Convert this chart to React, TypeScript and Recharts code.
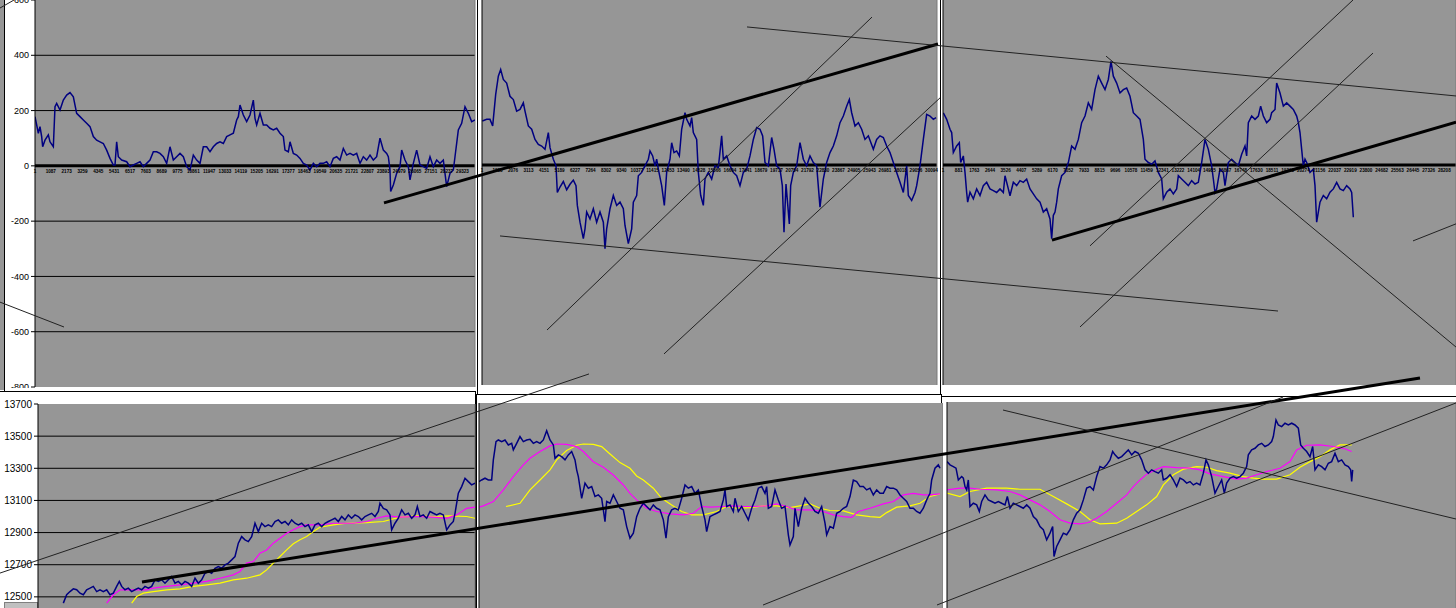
import { ComposedChart, Line, XAxis, YAxis, CartesianGrid, ReferenceLine, LabelList } from "recharts"

type Pt = [number, number]
type Seg = [number, number, number, number]

// ---- top row: oscillator, t = sample position, v = points ----
const oscLeft: Pt[] = [
  [105, 178], [115, 118], [120, 142], [125, 106], [128, 69], [135, 93], [145, 112], [150, 87], [160, 69],
  [165, 214], [170, 226], [180, 202], [190, 238], [200, 256], [210, 265], [220, 250], [230, 190], [240, 178],
  [250, 166], [260, 154], [270, 142], [280, 106], [290, 93], [300, 87], [310, 81], [320, 57], [330, 27],
  [340, 3], [345, 3], [350, 87], [355, 33], [365, 21], [380, 15], [390, -3], [400, 3], [410, 9], [420, 15],
  [430, -3], [440, 9], [450, 21], [460, 51], [470, 51], [480, 45], [490, 33], [500, 9], [510, 69], [520, 21],
  [530, 33], [540, 45], [550, 33], [560, -3], [570, -15], [580, 39], [590, 21], [600, 9], [610, 69], [620, 69],
  [630, 51], [640, 69], [650, 81], [660, 87], [670, 81], [680, 106], [690, 112], [700, 118], [710, 166],
  [715, 178], [720, 220], [730, 184], [740, 160], [750, 184], [760, 238], [765, 172], [770, 148], [780, 190],
  [790, 148], [800, 148], [810, 136], [820, 130], [830, 136], [840, 118], [850, 106], [855, 57], [865, 51],
  [870, 87], [880, 45], [890, 39], [900, 27], [910, 9], [920, 3], [930, -15], [940, 9], [950, -3], [960, 9],
  [970, 9], [980, 15], [990, -3], [1000, 27], [1010, 33], [1020, 21], [1030, 63], [1040, 39], [1050, 45],
  [1060, 39], [1070, 45], [1080, 9], [1090, 33], [1100, 21], [1110, 39], [1120, 21], [1130, 33], [1140, 100],
  [1150, 57], [1160, 45], [1165, 33], [1170, -15], [1172, -93], [1180, -69], [1190, -27], [1200, -3],
  [1205, 57], [1215, 21], [1225, -3], [1230, -51], [1240, 9], [1250, 57], [1260, 3], [1270, -3], [1280, -9],
  [1290, 33], [1300, -3], [1310, 21], [1320, 9], [1330, 21], [1340, -75], [1350, -27], [1360, -15], [1365, 33],
  [1375, 130], [1385, 154], [1395, 214], [1405, 190], [1415, 160], [1425, 166],
]

const oscMid: Pt[] = [
  [37, 160], [50, 166], [60, 166], [68, 142], [77, 256], [85, 323], [92, 347], [100, 311], [110, 298],
  [120, 250], [130, 238], [140, 196], [150, 202], [160, 226], [165, 196], [175, 142], [185, 130], [195, 93],
  [205, 75], [215, 69], [225, 57], [235, 118], [240, 63], [250, 21], [258, -3], [262, -100], [270, -80],
  [280, -60], [290, -90], [300, -70], [310, -55], [318, -75], [322, -147], [330, -208], [340, -268],
  [345, -232], [350, -171], [360, -196], [370, -159], [380, -208], [390, -171], [400, -208], [405, -304],
  [410, -232], [420, -159], [430, -111], [440, -147], [450, -135], [460, -159], [465, -220], [475, -286],
  [485, -232], [490, -135], [500, -111], [505, -39], [515, -27], [525, -3], [535, 21], [540, 51], [548, 33],
  [555, -3], [560, 21], [565, -15], [575, -75], [583, -147], [590, -27], [600, 21], [605, 81], [612, 45],
  [620, 51], [628, 33], [635, 130], [645, 190], [650, 166], [660, 142], [665, 172], [670, 118], [680, 93],
  [685, -27], [692, -110], [700, -147], [705, -51], [715, -27], [725, -51], [735, -3], [745, -9], [755, 106],
  [760, 21], [770, 33], [780, -3], [790, -27], [800, -39], [810, -75], [820, -27], [830, -15], [840, 33],
  [850, 93], [860, 136], [870, 130], [878, 106], [885, 9], [895, -3], [905, 100], [912, 57], [920, -3],
  [930, -15], [937, -75], [942, -244], [948, -69], [958, -214], [962, -75], [970, -27], [980, -3], [990, 81],
  [1000, 21], [1010, -3], [1020, 33], [1030, 9], [1040, -3], [1050, -153], [1060, -51], [1070, 9], [1080, 45],
  [1090, 69], [1100, 106], [1110, 154], [1120, 178], [1130, 214], [1138, 238], [1145, 190], [1155, 142],
  [1165, 154], [1175, 130], [1185, 93], [1195, 106], [1210, 57], [1220, 93], [1230, 106], [1240, 100],
  [1250, 69], [1260, 45], [1270, 9], [1280, -27], [1290, -63], [1300, -100], [1310, -3], [1315, -111],
  [1325, -129], [1335, -100], [1340, -75], [1350, -3], [1360, 93], [1370, 184], [1380, 178], [1390, 166],
  [1398, 172],
]

const oscRight: Pt[] = [
  [40, 190], [50, 166], [60, 130], [65, 118], [70, 45], [80, 69], [88, 81], [92, 9], [100, 33], [105, -27],
  [110, -100], [113, -135], [120, -99], [130, -123], [140, -87], [150, -111], [160, -75], [170, -63],
  [180, -87], [190, -93], [200, -100], [210, -87], [220, -100], [225, -39], [235, -87], [240, -112],
  [250, -63], [260, -75], [270, -57], [280, -63], [290, -51], [300, -87], [310, -105], [320, -123],
  [330, -135], [340, -171], [350, -159], [360, -196], [365, -268], [370, -183], [375, -171], [380, -135],
  [385, -87], [395, -39], [405, -27], [415, 9], [425, 69], [435, 57], [445, 93], [455, 154], [465, 178],
  [475, 226], [485, 202], [495, 274], [505, 323], [515, 298], [525, 274], [535, 311], [543, 377], [550, 323],
  [560, 298], [570, 262], [580, 274], [590, 280], [600, 250], [610, 190], [620, 178], [630, 166], [640, 93],
  [645, 21], [655, 9], [665, 3], [675, 15], [685, -27], [695, -51], [700, -123], [710, -99], [720, -87],
  [730, -105], [740, -87], [745, -39], [755, -51], [765, -63], [775, -75], [785, -57], [795, -69], [805, -63],
  [815, 9], [825, 93], [835, 57], [845, -3], [850, -51], [855, -100], [860, -87], [870, -15], [880, -27],
  [885, -75], [895, 9], [905, 21], [915, 9], [925, -3], [935, 39], [945, 69], [950, 33], [955, 154],
  [965, 178], [975, 166], [985, 178], [992, 214], [1000, 178], [1010, 154], [1020, 166], [1025, 190],
  [1035, 202], [1040, 298], [1050, 262], [1060, 214], [1070, 226], [1080, 214], [1090, 202], [1100, 178],
  [1105, 154], [1110, 118], [1115, 57], [1120, -3], [1125, 21], [1130, 9], [1140, -27], [1150, -15],
  [1155, -75], [1160, -208], [1170, -135], [1180, -111], [1190, -123], [1200, -99], [1210, -87], [1220, -63],
  [1230, -87], [1240, -93], [1250, -75], [1260, -87], [1265, -100], [1270, -190],
]

const ticksLeft = ["1", "1087", "2173", "3259", "4345", "5431", "6517", "7603", "8689", "9775", "10861", "11947", "13033", "14119", "15205", "16291", "17377", "18463", "19549", "20635", "21721", "22807", "23893", "24979", "26065", "27151", "28237", "29323"]
const ticksMid = ["1", "1038", "2076", "3113", "4151", "5189", "6227", "7264", "8302", "9340", "10377", "11415", "12453", "13490", "14528", "15566", "16604", "17641", "18679", "19717", "20754", "21792", "22830", "23867", "24905", "25943", "26981", "28018", "29056", "30094"]
const ticksRight = ["1", "881", "1763", "2644", "3526", "4407", "5289", "6170", "7052", "7933", "8815", "9696", "10578", "11459", "12341", "13222", "14104", "14985", "15867", "16748", "17630", "18511", "19393", "20274", "21156", "22037", "22919", "23800", "24682", "25563", "26445", "27326", "28208"]

// ---- bottom row: price with two moving averages ----
const priceLeft: Pt[] = [
  [190, 12461], [200, 12513], [210, 12533], [220, 12550], [230, 12544], [240, 12523], [250, 12513], [260, 12544],
  [270, 12554], [280, 12565], [290, 12533], [300, 12544], [310, 12533], [320, 12544], [330, 12513], [340, 12523],
  [350, 12565], [358, 12596], [365, 12565], [375, 12544], [385, 12554], [395, 12533], [405, 12544], [415, 12554],
  [425, 12544], [435, 12565], [445, 12554], [455, 12565], [465, 12606], [475, 12596], [485, 12606], [495, 12585],
  [505, 12606], [515, 12627], [525, 12585], [535, 12596], [545, 12575], [555, 12596], [565, 12585], [575, 12565],
  [585, 12616], [595, 12585], [605, 12606], [615, 12647], [625, 12658], [635, 12647], [645, 12678], [655, 12689],
  [665, 12678], [675, 12699], [685, 12710], [695, 12730], [705, 12751], [715, 12834], [725, 12875], [735, 12855],
  [745, 12844], [755, 12875], [765, 12958], [775, 12906], [785, 12958], [795, 12937], [805, 12948], [815, 12937],
  [825, 12969], [835, 12979], [845, 12958], [855, 12969], [865, 12948], [875, 12979], [885, 12958], [895, 12948],
  [905, 12958], [915, 12937], [925, 12948], [935, 12906], [945, 12948], [955, 12958], [965, 12937], [975, 12958],
  [985, 12969], [995, 12979], [1005, 12989], [1015, 12969], [1025, 13000], [1035, 12979], [1045, 13010],
  [1055, 12989], [1065, 13010], [1075, 13000], [1085, 12979], [1095, 13000], [1105, 13010], [1115, 13020],
  [1125, 13000], [1135, 13031], [1140, 13083], [1150, 13051], [1160, 13041], [1170, 13010], [1175, 12917],
  [1185, 12958], [1195, 12989], [1205, 13041], [1215, 13010], [1225, 13020], [1235, 12989], [1245, 13010],
  [1252, 13062], [1260, 13000], [1270, 13010], [1280, 12989], [1290, 13031], [1300, 13020], [1310, 13010],
  [1320, 13020], [1330, 13010], [1340, 12917], [1350, 12948], [1360, 12969], [1365, 13020], [1375, 13145],
  [1385, 13186], [1395, 13238], [1405, 13217], [1415, 13197], [1425, 13207],
]
const fastLeft: Pt[] = [
  [320, 12461], [340, 12513], [360, 12544], [400, 12544], [440, 12544], [460, 12554], [500, 12565], [540, 12575],
  [580, 12585], [620, 12596], [660, 12616], [700, 12637], [720, 12658], [740, 12710], [760, 12720], [780, 12772],
  [800, 12792], [820, 12834], [840, 12865], [860, 12896], [880, 12917], [900, 12937], [920, 12948], [960, 12948],
  [1000, 12958], [1060, 12958], [1100, 12969], [1130, 12989], [1160, 13004], [1200, 12996], [1250, 13000],
  [1300, 12996], [1340, 12989], [1370, 13010], [1400, 13051], [1425, 13058],
]
const slowLeft: Pt[] = [
  [395, 12461], [410, 12502], [430, 12523], [460, 12533], [500, 12544], [540, 12550], [580, 12565], [620, 12575],
  [660, 12585], [700, 12606], [740, 12616], [780, 12637], [800, 12668], [820, 12710], [840, 12751], [860, 12792],
  [880, 12830], [900, 12855], [920, 12875], [940, 12906], [960, 12933], [1000, 12948], [1040, 12958],
  [1100, 12962], [1150, 12969], [1200, 12996], [1250, 13004], [1300, 13000], [1350, 13004], [1400, 13000],
  [1425, 12989],
]

const priceMid: Pt[] = [
  [27, 13211], [35, 13221], [45, 13232], [55, 13221], [65, 13221], [70, 13346], [78, 13460], [85, 13470],
  [95, 13460], [105, 13470], [115, 13439], [125, 13449], [130, 13408], [140, 13449], [150, 13491], [160, 13460],
  [170, 13470], [180, 13474], [190, 13449], [200, 13460], [210, 13449], [220, 13470], [230, 13528], [240, 13470],
  [250, 13439], [255, 13356], [265, 13377], [275, 13366], [285, 13346], [295, 13377], [305, 13398], [315, 13346],
  [320, 13284], [325, 13242], [335, 13107], [345, 13201], [355, 13170], [365, 13180], [375, 13118], [385, 13128],
  [395, 13107], [405, 12962], [410, 13087], [420, 13076], [430, 13128], [440, 13087], [450, 13045], [460, 13035],
  [470, 12931], [480, 12859], [490, 12890], [500, 12993], [510, 13045], [520, 13076], [530, 13056], [540, 13035],
  [550, 13066], [560, 13045], [570, 13035], [580, 12973], [588, 12859], [595, 12993], [605, 13035], [615, 13045],
  [625, 13035], [635, 13107], [645, 13190], [655, 13170], [665, 13180], [675, 13138], [685, 13159], [695, 13056],
  [705, 12973], [710, 12900], [720, 12993], [730, 13004], [740, 13014], [750, 13025], [760, 13097], [765, 13159],
  [770, 13056], [780, 13066], [790, 13025], [795, 13107], [805, 13025], [815, 13056], [825, 13014], [835, 12973],
  [845, 13045], [855, 13097], [865, 13170], [875, 13180], [885, 13138], [890, 13180], [895, 13045], [905, 13056],
  [915, 13159], [925, 13097], [935, 13045], [945, 13056], [955, 12880], [960, 12817], [970, 12869], [975, 13045],
  [985, 12931], [995, 13045], [1005, 13107], [1015, 13076], [1025, 13056], [1035, 13025], [1045, 13014],
  [1055, 13056], [1065, 12952], [1070, 12880], [1080, 12931], [1090, 12921], [1100, 13014], [1110, 13025],
  [1120, 13045], [1130, 13056], [1140, 13118], [1150, 13221], [1160, 13211], [1170, 13180], [1180, 13180],
  [1190, 13159], [1200, 13170], [1210, 13128], [1220, 13159], [1230, 13138], [1240, 13138], [1250, 13180],
  [1260, 13170], [1270, 13170], [1280, 13159], [1290, 13128], [1300, 13107], [1310, 13087], [1320, 13045],
  [1330, 13045], [1340, 13025], [1350, 13014], [1360, 13045], [1370, 13097], [1380, 13138], [1385, 13221],
  [1395, 13294], [1405, 13315], [1410, 13294],
]
const fastMid: Pt[] = [
  [27, 13052], [40, 13060], [70, 13087], [100, 13159], [130, 13242], [160, 13315], [180, 13356], [210, 13398],
  [240, 13433], [260, 13445], [290, 13443], [320, 13429], [340, 13398], [370, 13335], [400, 13300], [430, 13252],
  [460, 13190], [480, 13138], [500, 13097], [530, 13045], [560, 13025], [600, 13010], [640, 13004], [670, 13014],
  [695, 13056], [720, 13052], [760, 13056], [790, 13060], [820, 13056], [850, 13056], [890, 13060], [920, 13072],
  [950, 13056], [980, 13035], [1020, 13035], [1060, 13025], [1090, 13004], [1120, 12993], [1145, 12989],
  [1165, 13025], [1200, 13045], [1240, 13072], [1270, 13087], [1300, 13128], [1330, 13138], [1360, 13128],
  [1380, 13128], [1410, 13134],
]
const slowMid: Pt[] = [
  [108, 13056], [150, 13076], [180, 13159], [210, 13221], [240, 13284], [260, 13346], [290, 13404], [320, 13437],
  [340, 13445], [370, 13443], [395, 13429], [420, 13383], [450, 13329], [480, 13294], [500, 13246], [520, 13221],
  [550, 13170], [575, 13107], [605, 13066], [635, 13025], [665, 13004], [700, 13004], [740, 13025], [770, 13056],
  [800, 13045], [840, 13049], [880, 13060], [920, 13060], [960, 13049], [990, 13060], [1020, 13072], [1050, 13045],
  [1080, 13031], [1120, 13029], [1160, 13004], [1200, 12993], [1230, 12989], [1250, 13018], [1280, 13052],
  [1320, 13060], [1350, 13076], [1380, 13118], [1410, 13134],
]

const priceRight: Pt[] = [
  [51, 13329], [60, 13309], [70, 13298], [78, 13288], [85, 13215], [95, 13236], [100, 13226], [105, 13174],
  [110, 13153], [115, 13215], [120, 13050], [130, 13070], [140, 13060], [148, 13019], [155, 13081], [165, 13122],
  [175, 13091], [185, 13081], [195, 13070], [205, 13081], [215, 13070], [225, 13060], [232, 13112], [240, 13039],
  [250, 13070], [260, 13060], [270, 13050], [280, 13039], [290, 13060], [300, 13039], [310, 12987], [320, 12967],
  [330, 12925], [340, 12905], [350, 12842], [360, 12884], [368, 12925], [372, 12739], [380, 12801], [390, 12842],
  [400, 12884], [410, 12874], [420, 12905], [430, 12967], [440, 13008], [450, 13029], [460, 13091], [470, 13164],
  [480, 13174], [490, 13153], [500, 13236], [510, 13298], [520, 13288], [530, 13309], [540, 13340], [548, 13392],
  [555, 13371], [565, 13350], [575, 13360], [585, 13381], [595, 13402], [605, 13371], [615, 13392], [625, 13381],
  [635, 13340], [645, 13278], [655, 13257], [665, 13278], [675, 13267], [685, 13257], [695, 13278], [700, 13215],
  [710, 13226], [720, 13247], [730, 13215], [740, 13174], [750, 13226], [760, 13215], [770, 13195], [780, 13205],
  [790, 13184], [800, 13195], [810, 13184], [820, 13257], [828, 13340], [835, 13309], [845, 13236], [855, 13133],
  [865, 13174], [875, 13215], [883, 13133], [890, 13195], [900, 13226], [910, 13236], [920, 13226], [930, 13236],
  [940, 13257], [950, 13298], [955, 13371], [965, 13402], [975, 13412], [985, 13433], [995, 13443], [1005, 13423],
  [1015, 13433], [1025, 13454], [1030, 13485], [1038, 13588], [1045, 13557], [1055, 13547], [1065, 13568],
  [1075, 13557], [1085, 13568], [1095, 13557], [1105, 13537], [1112, 13433], [1120, 13412], [1130, 13392],
  [1140, 13360], [1148, 13423], [1155, 13278], [1165, 13309], [1175, 13298], [1185, 13278], [1195, 13319],
  [1205, 13329], [1215, 13381], [1225, 13329], [1235, 13340], [1245, 13309], [1255, 13298], [1262, 13278],
  [1265, 13205], [1268, 13278],
]
const fastRight: Pt[] = [
  [51, 13153], [90, 13164], [120, 13164], [150, 13157], [200, 13153], [240, 13143], [270, 13122], [300, 13091],
  [330, 13060], [360, 13019], [390, 12967], [420, 12946], [450, 12942], [475, 12950], [500, 12977], [530, 13019],
  [560, 13070], [590, 13122], [610, 13174], [630, 13215], [650, 13251], [680, 13282], [700, 13298], [740, 13292],
  [780, 13288], [810, 13278], [840, 13253], [880, 13236], [920, 13220], [950, 13226], [980, 13247], [1010, 13267],
  [1050, 13288], [1080, 13329], [1100, 13402], [1130, 13431], [1170, 13433], [1210, 13423], [1240, 13412],
  [1265, 13392],
]
const slowRight: Pt[] = [
  [51, 13133], [90, 13112], [120, 13143], [170, 13164], [230, 13164], [270, 13157], [330, 13157], [370, 13112],
  [410, 13066], [450, 13019], [480, 12967], [510, 12942], [560, 12946], [590, 12977], [620, 13019], [650, 13060],
  [680, 13112], [700, 13184], [730, 13247], [760, 13282], [800, 13298], [830, 13294], [860, 13273], [900, 13257],
  [940, 13236], [970, 13226], [1000, 13220], [1040, 13220], [1080, 13247], [1110, 13294], [1140, 13329],
  [1170, 13360], [1200, 13402], [1230, 13433], [1265, 13433],
]

// ---- hand-drawn trend lines, endpoints in each panel's own units ----
const trendThinA: Seg[] = [[0, 571, 42, 600], [0, -493, 192, -583]]
const trendThickA: Seg[] = [[1152, -134, 2814, 441]]
const trendThinB: Seg[] = [[831, 502, 2958, 251], [231, -600, 1206, 538], [582, -687, 1410, 244], [90, -258, 2424, -531]]
const trendThinC: Seg[] = [[528, 396, 1578, -662], [480, -294, 1269, 600], [450, -589, 1329, 407], [1449, -276, 1578, -214]]
const trendThickC: Seg[] = [[366, -273, 1578, 156]]
const trendThinD: Seg[] = [[0, 12648, 1767, 13887]]
const trendThickD: Seg[] = [[426, 12592, 4260, 13862]]
const trendThinE: Seg[] = [[879, 12443, 2439, 13737]]
const trendThinF: Seg[] = [[21, 12437, 1578, 13694], [219, 13650, 1578, 12972]]

const oscTicks = [-800, -600, -400, -200, 0, 200, 400, 600]
const oscGrid = [-600, -400, -200, 200, 400]
const priceTicks = [12500, 12700, 12900, 13100, 13300, 13500, 13700]
const priceGrid = [12500, 12700, 12900, 13100, 13300, 13500]

const PLOT = "#969696"
const NAVY = "#000080"
const FONT = "'Liberation Sans', Arial, sans-serif"

interface Layout {
  left: number
  top: number
  width: number
  height: number
  margin: { top: number; right: number; bottom: number; left: number }
  yWidth: number
  xDomain: [number, number]
  yDomain: [number, number]
  yTicks: number[]
  grid: number[]
  labels?: number
}

const layoutA: Layout = { left: 5, top: 0, width: 473, height: 388, margin: { top: 0, right: 3, bottom: 1, left: 0 }, yWidth: 30, xDomain: [105, 1425], yDomain: [-800, 600], yTicks: oscTicks, grid: oscGrid, labels: 9 }
const layoutB: Layout = { left: 478, top: 0, width: 461, height: 386, margin: { top: 0, right: 2, bottom: 1, left: 0 }, yWidth: 4, xDomain: [36, 1401], yDomain: [-800, 600], yTicks: oscTicks, grid: oscGrid }
const layoutC: Layout = { left: 940, top: 0, width: 516, height: 386, margin: { top: 0, right: 0, bottom: 1, left: 0 }, yWidth: 3, xDomain: [39, 1578], yDomain: [-800, 600], yTicks: oscTicks, grid: oscGrid }
const layoutD: Layout = { left: 0, top: 391, width: 476, height: 238, margin: { top: 13, right: 1, bottom: 0, left: 0 }, yWidth: 38, xDomain: [114, 1425], yDomain: [12300, 13700], yTicks: priceTicks, grid: priceGrid, labels: 10 }
const layoutE: Layout = { left: 476, top: 394, width: 467, height: 234, margin: { top: 9, right: 0, bottom: 0, left: 0 }, yWidth: 3, xDomain: [27, 1419], yDomain: [12300, 13700], yTicks: priceTicks, grid: priceGrid }
const layoutF: Layout = { left: 941, top: 396, width: 515, height: 231, margin: { top: 6, right: 0, bottom: 0, left: 0 }, yWidth: 6, xDomain: [51, 1578], yDomain: [12300, 13700], yTicks: priceTicks, grid: priceGrid }

const rows = (pts: Pt[]) => pts.map(([t, v]) => ({ t, v }))

interface Series {
  pts: Pt[]
  color: string
  width: number
}

function Panel({ lay, series, ticks, tickStep }: { lay: Layout; series: Series[]; ticks?: string[]; tickStep?: number }) {
  const tickRows = ticks ? ticks.map((label, k) => ({ t: lay.xDomain[0] + k * (tickStep || 0), v: 0, label })) : []
  return (
    <div style={{ position: "absolute", left: lay.left, top: lay.top }}>
      <ComposedChart width={lay.width} height={lay.height} margin={lay.margin}>
        <CartesianGrid fill={PLOT} fillOpacity={1} stroke="#000" vertical={false} horizontalValues={lay.grid} />
        <XAxis type="number" dataKey="t" domain={lay.xDomain} allowDataOverflow hide />
        <YAxis
          type="number"
          domain={lay.yDomain}
          ticks={lay.yTicks}
          interval={0}
          allowDataOverflow
          width={lay.yWidth}
          axisLine={{ stroke: "#000" }}
          tickLine={lay.labels ? { stroke: "#000" } : false}
          tickSize={4}
          tick={lay.labels ? { fill: "#000", fontSize: lay.labels, fontFamily: FONT } : false}
        />
        {ticks && <ReferenceLine y={0} stroke="#000" strokeWidth={3} />}
        <ReferenceLine x={lay.xDomain[1]} stroke="#7a7a7a" />
        {series.map((s, i) => (
          <Line
            key={i}
            data={rows(s.pts)}
            dataKey="v"
            type="linear"
            stroke={s.color}
            strokeWidth={s.width}
            dot={false}
            activeDot={false}
            isAnimationActive={false}
          />
        ))}
        {ticks && (
          <Line data={tickRows} dataKey="v" stroke="none" dot={false} activeDot={false} isAnimationActive={false}>
            <LabelList dataKey="label" position="bottom" offset={4} fontSize={4.6} fontWeight="bold" fill="#000" fontFamily={FONT} />
          </Line>
        )}
      </ComposedChart>
    </div>
  )
}

function Trends({ lay, thin, thick }: { lay: Layout; thin: Seg[]; thick: Seg[] }) {
  return (
    <div className="trend" style={{ position: "absolute", left: lay.left, top: lay.top, pointerEvents: "none" }}>
      <ComposedChart width={lay.width} height={lay.height} margin={lay.margin}>
        <XAxis type="number" dataKey="t" domain={lay.xDomain} allowDataOverflow hide />
        <YAxis type="number" domain={lay.yDomain} allowDataOverflow width={lay.yWidth} tick={false} axisLine={false} tickLine={false} />
        {thin.map(([a, b, c, d], i) => (
          <ReferenceLine key={"n" + i} segment={[{ x: a, y: b }, { x: c, y: d }]} stroke="#222" strokeWidth={1} ifOverflow="visible" />
        ))}
        {thick.map(([a, b, c, d], i) => (
          <ReferenceLine key={"k" + i} segment={[{ x: a, y: b }, { x: c, y: d }]} stroke="#000" strokeWidth={3} ifOverflow="visible" />
        ))}
      </ComposedChart>
    </div>
  )
}

const frame = (left: number, top: number, width: number, height: number) => (
  <div style={{ position: "absolute", left, top, width, height, background: "#fff", border: "1px solid #000", boxSizing: "border-box" }} />
)

export default function App() {
  return (
    <div style={{ position: "fixed", left: 0, top: 0, width: 1456, height: 608, overflow: "hidden", background: "#fff" }}>
      <style>{".trend .recharts-wrapper, .trend svg { overflow: visible !important; }"}</style>
      <div style={{ position: "absolute", left: 0, top: 0, width: 4, height: 390, background: PLOT }} />
      {frame(4, -2, 475, 400)}
      {frame(477, -2, 464, 400)}
      {frame(940, -2, 520, 402)}
      {frame(-2, 391, 478, 220)}
      {frame(476, 394, 466, 216)}
      {frame(941, 396, 519, 214)}
      <div style={{ position: "absolute", left: 4, top: 602, width: 32, height: 8, background: "#c0c0c0", border: "1px solid #808080" }} />

      <Panel lay={layoutA} series={[{ pts: oscLeft, color: NAVY, width: 1.5 }]} ticks={ticksLeft} tickStep={47.5} />
      <Panel lay={layoutB} series={[{ pts: oscMid, color: NAVY, width: 1.5 }]} ticks={ticksMid} tickStep={46.5} />
      <Panel lay={layoutC} series={[{ pts: oscRight, color: NAVY, width: 1.5 }]} ticks={ticksRight} tickStep={47} />
      <Panel
        lay={layoutD}
        series={[
          { pts: slowLeft, color: "#ffff00", width: 1.2 },
          { pts: fastLeft, color: "#ff00ff", width: 1.2 },
          { pts: priceLeft, color: NAVY, width: 1.5 },
        ]}
      />
      <Panel
        lay={layoutE}
        series={[
          { pts: slowMid, color: "#ffff00", width: 1.2 },
          { pts: fastMid, color: "#ff00ff", width: 1.2 },
          { pts: priceMid, color: NAVY, width: 1.5 },
        ]}
      />
      <Panel
        lay={layoutF}
        series={[
          { pts: slowRight, color: "#ffff00", width: 1.2 },
          { pts: fastRight, color: "#ff00ff", width: 1.2 },
          { pts: priceRight, color: NAVY, width: 1.5 },
        ]}
      />

      <Trends lay={layoutA} thin={trendThinA} thick={trendThickA} />
      <Trends lay={layoutB} thin={trendThinB} thick={[]} />
      <Trends lay={layoutC} thin={trendThinC} thick={trendThickC} />
      <Trends lay={layoutD} thin={trendThinD} thick={trendThickD} />
      <Trends lay={layoutE} thin={trendThinE} thick={[]} />
      <Trends lay={layoutF} thin={trendThinF} thick={[]} />
    </div>
  )
}
